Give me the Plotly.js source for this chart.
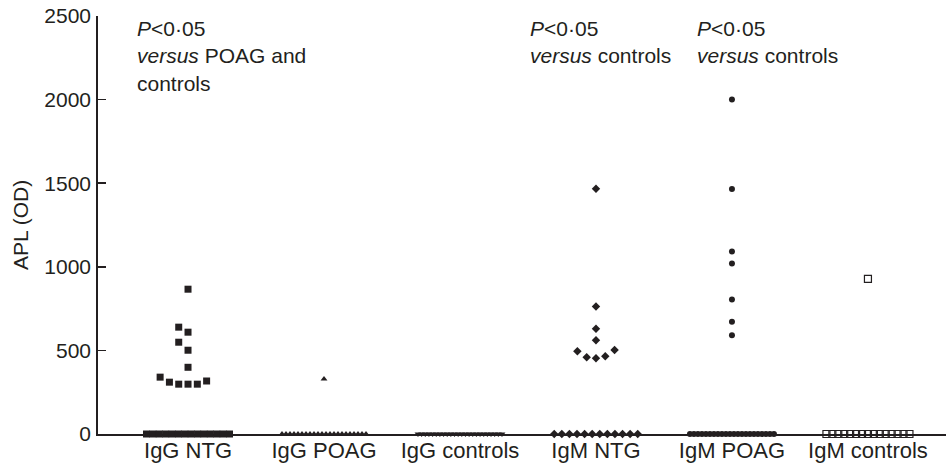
<!DOCTYPE html>
<html>
<head>
<meta charset="utf-8">
<script src="https://cdn.plot.ly/plotly-3.0.1.min.js"></script>
<style>html,body{margin:0;padding:0;background:#fff;}#chart{width:951px;height:466px;}</style>
</head>
<body>
<div id="chart"></div>
<script>
// ---- data ----
const categories = ['IgG NTG', 'IgG POAG', 'IgG controls', 'IgM NTG', 'IgM POAG', 'IgM controls'];
const yTickVals = [0, 500, 1000, 1500, 2000, 2500];
const yTickText = ['0', '500', '1000', '1500', '2000', '2500'];
const igGNTG = [866, 639, 609, 549, 501, 399, 340, 317, 310, 298, 298, 298,
  0, 0, 0, 0, 0, 0, 0, 0, 0, 0, 0, 0, 0, 0];
const igGPOAG = [329,
  0, 0, 0, 0, 0, 0, 0, 0, 0, 0, 0, 0, 0, 0, 0, 0, 0, 0, 0, 0, 0, 0];
const igGControls = [
  0, 0, 0, 0, 0, 0, 0, 0, 0, 0, 0, 0, 0, 0, 0, 0, 0, 0, 0, 0, 0, 0, 0, 0];
const igMNTG = [1467, 762, 629, 561, 503, 495, 465, 459, 453,
  0, 0, 0, 0, 0, 0, 0, 0, 0, 0, 0, 0];
const igMPOAG = [2000, 1465, 1092, 1020, 804, 671, 591,
  0, 0, 0, 0, 0, 0, 0, 0, 0, 0, 0, 0, 0, 0, 0, 0, 0, 0, 0, 0, 0, 0];
const igMControls = [928,
  0, 0, 0, 0, 0, 0, 0, 0, 0, 0, 0, 0, 0, 0, 0];
const noteTexts = [
  '<i>P</i>&lt;0·05<br><i>versus</i> POAG and<br>controls',
  '<i>P</i>&lt;0·05<br><i>versus</i> controls',
  '<i>P</i>&lt;0·05<br><i>versus</i> controls'
];

// ---- layout constants ----
const W = 951, H = 466;
const M = {l: 98, r: 5, t: 16, b: 32};
const INK = '#231f20';
const FONT = 'Liberation Sans, Arial, Helvetica, sans-serif';
const plotW = W - M.l - M.r, plotH = H - M.t - M.b;
const xRange = [-0.662, 5.574];
const yRange = [0, 2500];
const PX_PER_X = plotW / (xRange[1] - xRange[0]);
const PX_PER_Y = plotH / (yRange[1] - yRange[0]);
const SLOT = 9.3 / PX_PER_X;     // horizontal step of the swarm
const T = 10.5;                 // vertical collision distance, px
const BAND = 90;                // width of the baseline row, px
const noteLeftPx = [135, 528, 695]; // left edges of the note blocks, px
const pxToX = px => xRange[0] + (px - M.l) / PX_PER_X;

const styles = [
  {symbol: 'square', size: 7},
  {symbol: 'triangle-up', size: 6},
  {symbol: 'triangle-down', size: 6},
  {symbol: 'diamond', size: 6.5},
  {symbol: 'circle', size: 6},
  {symbol: 'square-open', size: 7, open: true}
];
const groups = [igGNTG, igGPOAG, igGControls, igMNTG, igMPOAG, igMControls];

function swarm(values, idx, sizePx) {
  const xs = [], ys = [];
  const zeros = values.filter(v => v === 0);
  const pos = values.filter(v => v !== 0).slice().sort((a, b) => a - b);
  const n = zeros.length;
  const half = (BAND / 2 - sizePx / 2) / PX_PER_X;
  zeros.forEach((v, i) => {
    xs.push(idx + (n > 1 ? -half + 2 * half * i / (n - 1) : 0));
    ys.push(v);
  });
  const placed = [];
  const order = [0, -1, 1, -2, 2, -3, 3, -4, 4, -5, 5];
  pos.forEach(v => {
    const ypx = v * PX_PER_Y;
    for (const s of order) {
      if (!placed.some(p => p.s === s && Math.abs(p.y - ypx) < T)) {
        placed.push({s: s, y: ypx});
        xs.push(idx + s * SLOT);
        ys.push(v);
        break;
      }
    }
  });
  return {xs, ys};
}

const traces = groups.map((vals, i) => {
  const st = styles[i];
  const p = swarm(vals, i, st.size);
  return {
    type: 'scatter', mode: 'markers', x: p.xs, y: p.ys,
    name: categories[i], cliponaxis: false, hoverinfo: 'skip',
    marker: {
      symbol: st.symbol, size: st.size, color: INK,
      line: {width: st.open ? 1.2 : 0, color: INK}
    }
  };
});

const annotations = noteTexts.map((t, i) => ({
  x: pxToX(noteLeftPx[i]), xref: 'x', xanchor: 'left',
  y: 1.002, yref: 'paper', yanchor: 'top',
  text: t, showarrow: false, align: 'left',
  font: {family: FONT, size: 21, color: INK}
}));

const layout = {
  width: W, height: H, margin: M,
  paper_bgcolor: '#fff', plot_bgcolor: '#fff',
  showlegend: false, hovermode: false,
  font: {family: FONT, size: 21, color: INK},
  xaxis: {
    range: xRange, tickmode: 'array', tickvals: categories.map((c, i) => i), ticktext: categories,
    showline: true, linecolor: INK, linewidth: 1.5, ticks: '', showgrid: false, zeroline: false,
    layer: 'below traces', ticklabelstandoff: -4,
    tickfont: {family: FONT, size: 22, color: INK}
  },
  yaxis: {
    range: yRange, tickmode: 'array', tickvals: yTickVals, ticktext: yTickText,
    showline: true, linecolor: INK, linewidth: 1.8, ticks: 'inside', ticklen: 8, tickwidth: 1.5, tickcolor: INK,
    showgrid: false, zeroline: false, layer: 'below traces', ticklabelstandoff: 1,
    tickfont: {family: FONT, size: 21, color: INK},
    title: {text: 'APL (OD)', font: {family: FONT, size: 21, color: INK}, standoff: 10}
  },
  annotations: annotations
};

Plotly.newPlot('chart', traces, layout, {displayModeBar: false, staticPlot: true});
</script>
</body>
</html>
